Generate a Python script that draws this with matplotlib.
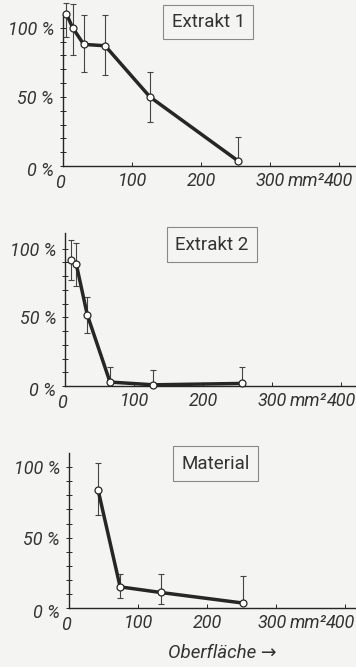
import matplotlib
matplotlib.use("Agg")
import matplotlib.pyplot as plt
from matplotlib import font_manager

# the original uses a condensed DIN-like italic; Roboto is the narrowest at hand
names = {f.name for f in font_manager.fontManager.ttflist}
family = "Roboto" if "Roboto" in names else "Liberation Sans"
plt.rcParams["font.family"] = [family, "DejaVu Sans"]

bg = "#f4f4f2"
ink = "#262626"
txt = "#333333"

# data: surface area (mm^2) vs. relative value (%), with lower/upper error ends
titles = ["Extrakt 1", "Extrakt 2", "Material"]

x1 = [5, 14, 30, 61, 126, 253]
y1 = [110, 100, 88, 87, 50, 4]
lo1 = [93, 80, 68, 66, 32, 4]
hi1 = [118, 117, 109, 109, 68, 21]

x2 = [8, 16, 32, 65, 128, 256]
y2 = [92, 89, 52, 3, 1, 2]
lo2 = [77, 73, 39, 3, 1, 2]
hi2 = [106, 104, 65, 14, 12, 14]

x3 = [42, 74, 133, 252]
y3 = [84, 15, 11, 3.5]
lo3 = [66, 7, 3, 3.5]
hi3 = [103, 24, 24, 23]

series = [(x1, y1, lo1, hi1), (x2, y2, lo2, hi2), (x3, y3, lo3, hi3)]

# axes boxes in figure fractions (left, bottom, width, height), ylim top
boxes = [
    (0.177, 0.751, 0.823, 0.226, 109),
    (0.183, 0.421, 0.817, 0.229, 111),
    (0.194, 0.0885, 0.806, 0.232, 110),
]
# title box centres in figure fractions
tpos = [(0.585, 0.967), (0.595, 0.633), (0.605, 0.305)]

fig = plt.figure(figsize=(3.56, 6.67), dpi=100, facecolor=bg)

for i, ((x, y, lo, hi), (l, b, w, h, ytop)) in enumerate(zip(series, boxes)):
    ax = fig.add_axes([l, b, w, h])
    ax.set_facecolor(bg)
    xmax = (1 - l) * 356 / 0.69
    ax.set_xlim(0, xmax)
    ax.set_ylim(0, ytop)
    for s in ["top", "right"]:
        ax.spines[s].set_visible(False)
    for s in ["left", "bottom"]:
        ax.spines[s].set_color(ink)
        ax.spines[s].set_linewidth(1.0)

    err = [[yy - a for yy, a in zip(y, lo)], [c - yy for yy, c in zip(y, hi)]]
    ax.errorbar(x, y, yerr=err, fmt="none", ecolor="#444444", elinewidth=0.8,
                capsize=2.0, capthick=0.8, clip_on=False, zorder=2)
    ax.plot(x, y, color=ink, lw=2.5, marker="o", ms=5, mfc="white",
            mec=ink, mew=0.9, clip_on=False, zorder=3)

    ax.set_xticks([0, 100, 200, 300, 400])
    ax.set_xticklabels([])
    ax.tick_params(axis="x", direction="in", length=3, width=0.7, color=ink)
    ax.set_yticks([0, 50, 100])
    ax.set_yticks(range(10, 100, 10), minor=True)
    ax.set_yticklabels([])
    ax.tick_params(axis="y", which="both", direction="inout", length=4,
                   width=0.7, color=ink)

    # keep the last label inside the picture on the right-shifted bottom panel
    shift = -4 if i == 2 else 0
    tk = dict(fontsize=13, style="italic", color=txt, textcoords="offset pixels")
    for v, s in [(100, "100"), (200, "200"), (300, "300"), (400, "400")]:
        dx = shift if v >= 300 else 0
        ax.annotate(s, xy=(v, 0), xytext=(dx, -15), ha="center", va="center", **tk)
    ax.annotate("mm²", xy=(352, 0), xytext=(shift, -15), ha="center", va="center", **tk)
    ax.annotate("0", xy=(0, 0), xytext=(-3, -17), ha="center", va="center", **tk)
    for v, s in [(0, "0 %"), (50, "50 %"), (100, "100 %")]:
        dy = -5 if v == 0 else -2
        ax.annotate(s, xy=(0, v), xytext=(-9, dy), ha="right", va="center", **tk)

    fig.text(tpos[i][0], tpos[i][1], titles[i], ha="center", va="center",
             fontsize=13.5, color=txt,
             bbox=dict(boxstyle="square,pad=0.45", fc=bg, ec="#888888", lw=0.8))

fig.text(0.625, 0.021, "Oberfläche →", ha="center", va="center",
         fontsize=13.5, style="italic", color=txt)

fig.savefig("out.png", dpi=100, facecolor=bg)
